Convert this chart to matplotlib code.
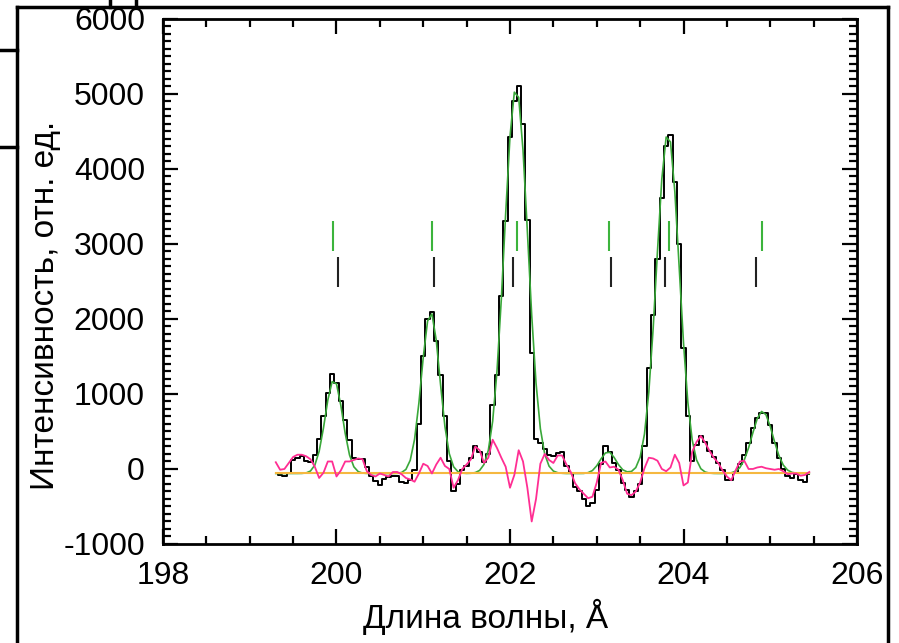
import numpy as np
import matplotlib.pyplot as plt
from matplotlib.lines import Line2D
from matplotlib.ticker import MultipleLocator

plt.rcParams['font.family'] = ['Liberation Sans', 'DejaVu Sans']
plt.rcParams['axes.unicode_minus'] = False

# wavelength sampling grid, A (199.30 ... 205.45, step 0.05)
wl = np.round(np.arange(199.30, 205.451, 0.05), 2)

# measured spectrum (black steps)
spectrum = [
    -50, -80, -90, -60, 120, 150, 170, 110, 90, 180,
    400, 700, 1010, 1270, 1150, 900, 650, 390, 150, 130,
    130, 20, -90, -160, -210, -130, -110, -90, -90, -170,
    -190, -150, -10, 600, 1500, 2000, 2090, 1700, 1250, 700,
    100, -300, -200, -20, 40, 150, 300, 220, 90, 200,
    850, 1250, 2300, 3300, 4430, 4900, 5100, 4600, 3320, 1550,
    400, 350, 260, 190, 170, 210, 220, 40, -50, -240,
    -290, -400, -490, -460, -280, 60, 310, 220, 80, -20,
    -190, -280, -380, -300, -200, 300, 1350, 2050, 2800, 3610,
    4300, 4450, 3830, 3000, 1610, 700, 100, 320, 440, 360,
    240, 160, 80, -10, -150, -150, -50, 60, 180, 340,
    550, 680, 750, 740, 580, 340, 150, 0, -100, -120,
    -70, -150, -170, -70,
]

# fitted profile (green)
fit = [
    -60, -60, -60, -60, -60, -60, -59, -53, -27, 51,
    235, 548, 919, 1165, 1135, 848, 477, 187, 29, -35,
    -55, -59, -60, -60, -60, -60, -60, -60, -58, -47,
    -6, 116, 396, 881, 1489, 1974, 2068, 1715, 1120, 565,
    204, 29, -36, -55, -59, -57, -48, -19, 60, 249,
    636, 1303, 2266, 3403, 4434, 5024, 4955, 4251, 3173, 2053,
    1144, 538, 199, 38, -28, -50, -57, -60, -60, -60,
    -60, -59, -49, -21, 43, 136, 214, 223, 154, 59,
    -11, -38, -33, 19, 158, 465, 1025, 1871, 2905, 3867,
    4426, 4360, 3698, 2694, 1680, 889, 387, 121, 3, -41,
    -55, -59, -60, -60, -58, -51, -31, 19, 120, 281,
    485, 672, 767, 725, 566, 360, 177, 52, -15, -45,
    -56, -59, -60, -60,
]

# residual (pink)
resid = [
    90, -10, 0, 80, 160, 190, 190, 170, 130, 30,
    -120, -50, 100, 100, -100, -20, 100, 100, 120, 140,
    130, -30, -80, -100, -60, -80, -100, -40, -40, -70,
    -120, -140, -170, -60, 70, 40, -60, 60, 150, 40,
    0, -250, -150, 0, 60, 130, 300, 250, 80, 150,
    390, 280, 150, 30, -250, -80, 250, 100, -250, -700,
    -400, 70, 200, 120, 80, 180, 180, 60, -40, -190,
    -270, -330, -390, -370, -180, 80, 100, 20, 30, -10,
    -150, -330, -350, -300, -180, 10, 150, 140, 110, 0,
    -30, 20, 190, 80, -220, -180, 230, 360, 440, 350,
    240, 150, 80, -20, -100, -150, -20, 100, 110, 0,
    0, 20, 30, 10, 0, -10, 0, -30, -70, -60,
    -60, -90, -80, -40,
]

baseline = -60

# line position markers
green_marks = [199.96, 201.10, 202.08, 203.14, 203.83, 204.91]
black_marks = [200.02, 201.12, 202.03, 203.16, 203.79, 204.84]

fig = plt.figure(figsize=(8.99, 6.43), dpi=100)
ax = fig.add_axes([0.1813, 0.154, 0.772, 0.8165])

ax.plot(wl, spectrum, color='black', lw=1.4, drawstyle='steps-mid', zorder=2)
ax.plot(wl, fit, color='#3aa83a', lw=1.2, zorder=3)
ax.plot([wl[0], wl[-1]], [baseline, baseline], color='#f5b840', lw=1.5, zorder=4)
ax.plot(wl, resid, color='#ff2e93', lw=1.3, zorder=5)

ax.vlines(green_marks, 2900, 3300, color='#3cb43c', lw=1.5, zorder=6)
ax.vlines(black_marks, 2420, 2820, color='#222222', lw=1.5, zorder=6)

ax.set_xlim(198, 206)
ax.set_ylim(-1000, 6000)
ax.xaxis.set_major_locator(MultipleLocator(2))
ax.xaxis.set_minor_locator(MultipleLocator(0.5))
ax.yaxis.set_major_locator(MultipleLocator(1000))
ax.yaxis.set_minor_locator(MultipleLocator(100))

ax.tick_params(which='both', direction='in', top=True, right=True, width=1.6, labelsize=23)
ax.tick_params(which='major', length=11)
ax.tick_params(which='minor', length=6)
ax.tick_params(axis='y', pad=13)
ax.tick_params(axis='x', pad=12)
for s in ax.spines.values():
    s.set_linewidth(2)

ax.set_xlabel('Длина волны, Å', fontsize=24, labelpad=8)
ax.xaxis.set_label_coords(0.465, -0.105)
ax.set_ylabel('Интенсивность, отн. ед.', fontsize=24)
ax.yaxis.set_label_coords(-0.147, 0.455)

# frame of the scanned page
kw = dict(color='black', lw=2.5, transform=fig.transFigure)
W, H = 899, 643
fig.add_artist(Line2D([17 / W, 17 / W], [0, 1 - 7 / H], **kw))
fig.add_artist(Line2D([17 / W, 888 / W], [1 - 7 / H, 1 - 7 / H], **kw))
fig.add_artist(Line2D([888 / W, 888 / W], [0, 1 - 7 / H], **kw))
fig.add_artist(Line2D([0, 17 / W], [1 - 50 / H, 1 - 50 / H], **kw))
fig.add_artist(Line2D([0, 17 / W], [1 - 147 / H, 1 - 147 / H], **kw))
fig.add_artist(Line2D([110 / W, 110 / W], [1 - 7 / H, 1], **kw))
fig.add_artist(Line2D([136 / W, 136 / W], [1 - 7 / H, 1], **kw))

fig.savefig('out.png', dpi=100)
